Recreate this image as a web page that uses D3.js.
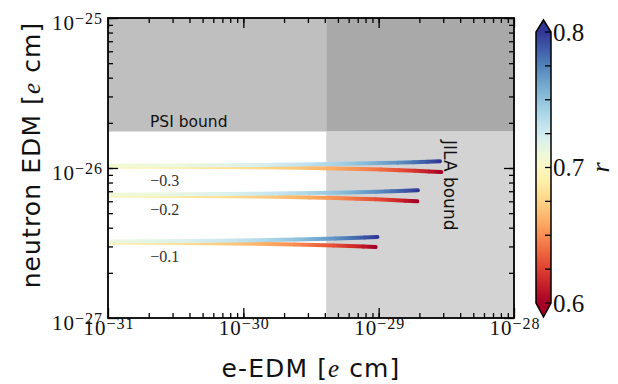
<!DOCTYPE html>
<html>
<head>
<meta charset="utf-8">
<script src="https://cdn.jsdelivr.net/npm/d3@7"></script>
<style>
  body { margin: 0; background: #fff; }
  .serif { font-family: "Liberation Serif", "DejaVu Serif", serif; }
  .sans { font-family: "DejaVu Sans", sans-serif; }
</style>
</head>
<body>
<script>
// ---- data ----
var rUpper = [0.703, 0.71, 0.72, 0.73, 0.74, 0.75, 0.76, 0.77, 0.78, 0.79, 0.80];
var rLower = [0.697, 0.69, 0.68, 0.67, 0.66, 0.65, 0.64, 0.63, 0.62, 0.61, 0.60];

// group -0.3
var eUp3 = [2.6e-32, 2.84e-31, 1.14e-30, 2.56e-30, 4.5e-30, 7.1e-30, 1.02e-29, 1.39e-29, 1.82e-29, 2.3e-29, 2.84e-29];
var eLo3 = [2.6e-32, 2.9e-31, 1.16e-30, 2.6e-30, 4.6e-30, 7.2e-30, 1.04e-29, 1.42e-29, 1.86e-29, 2.35e-29, 2.9e-29];
var nUp3 = [1.032e-26, 1.038e-26, 1.046e-26, 1.054e-26, 1.062e-26, 1.070e-26, 1.078e-26, 1.086e-26, 1.094e-26, 1.102e-26, 1.110e-26];
var nLo3 = [1.027e-26, 1.021e-26, 1.012e-26, 1.003e-26, 0.994e-26, 0.985e-26, 0.976e-26, 0.967e-26, 0.958e-26, 0.949e-26, 0.940e-26];
// group -0.2
var eUp2 = [1.76e-32, 1.95e-31, 7.8e-31, 1.76e-30, 3.1e-30, 4.9e-30, 7.0e-30, 9.6e-30, 1.25e-29, 1.58e-29, 1.95e-29];
var eLo2 = [1.76e-32, 1.93e-31, 7.7e-31, 1.74e-30, 3.08e-30, 4.85e-30, 6.95e-30, 9.5e-30, 1.24e-29, 1.57e-29, 1.93e-29];
var nUp2 = [6.615e-27, 6.65e-27, 6.70e-27, 6.75e-27, 6.80e-27, 6.85e-27, 6.90e-27, 6.95e-27, 7.00e-27, 7.05e-27, 7.10e-27];
var nLo2 = [6.582e-27, 6.54e-27, 6.48e-27, 6.42e-27, 6.36e-27, 6.30e-27, 6.24e-27, 6.18e-27, 6.12e-27, 6.06e-27, 6.00e-27];
// group -0.1
var eUp1 = [8.8e-33, 9.8e-32, 3.9e-31, 8.8e-31, 1.57e-30, 2.45e-30, 3.5e-30, 4.8e-30, 6.3e-30, 7.9e-30, 9.8e-30];
var eLo1 = [8.6e-33, 9.5e-32, 3.8e-31, 8.6e-31, 1.52e-30, 2.38e-30, 3.4e-30, 4.65e-30, 6.1e-30, 7.7e-30, 9.5e-30];
var nUp1 = [3.218e-27, 3.236e-27, 3.262e-27, 3.288e-27, 3.314e-27, 3.34e-27, 3.366e-27, 3.392e-27, 3.418e-27, 3.444e-27, 3.47e-27];
var nLo1 = [3.203e-27, 3.186e-27, 3.162e-27, 3.138e-27, 3.114e-27, 3.09e-27, 3.066e-27, 3.042e-27, 3.018e-27, 2.994e-27, 2.97e-27];

var groupLabels = ["\u22120.3", "\u22120.2", "\u22120.1"];
var groupBase = [1.03e-26, 6.6e-27, 3.21e-27];

var xMajor = [1e-31, 1e-30, 1e-29, 1e-28];
var xExp = [-31, -30, -29, -28];
var yMajor = [1e-27, 1e-26, 1e-25];
var yExp = [-27, -26, -25];

var psiBound = 1.75e-26;
var jilaBound = 4.1e-30;

var cbTicks = [0.6, 0.625, 0.65, 0.675, 0.7, 0.725, 0.75, 0.775, 0.8];
var cbLabels = [0.6, 0.7, 0.8];

// ---- layout ----
var W = 618, H = 384;
var margin = {top: 18, right: 104, bottom: 66, left: 108},
    width = W - margin.left - margin.right,
    height = H - margin.top - margin.bottom;

var x = d3.scaleLog().domain([1e-31, 1e-28]).range([0, width]);
var y = d3.scaleLog().domain([1e-27, 1e-25]).range([height, 0]);
var color = function(r) { return d3.interpolateRdYlBu((r - 0.6) / 0.2); };

var svg0 = d3.select("body").append("svg")
    .attr("width", W).attr("height", H);
var defs = svg0.append("defs");
defs.append("clipPath").attr("id", "plotclip")
  .append("rect").attr("width", width).attr("height", height);

var svg = svg0.append("g")
    .attr("transform", "translate(" + margin.left + "," + margin.top + ")");

// shaded excluded regions
svg.append("rect")
    .attr("x", 0).attr("y", 0)
    .attr("width", x(jilaBound)).attr("height", y(psiBound))
    .attr("fill", "#bfbfbf");
svg.append("rect")
    .attr("x", x(jilaBound)).attr("y", 0)
    .attr("width", width - x(jilaBound)).attr("height", y(psiBound))
    .attr("fill", "#a9a9a9");
svg.append("rect")
    .attr("x", x(jilaBound)).attr("y", y(psiBound))
    .attr("width", width - x(jilaBound)).attr("height", height - y(psiBound))
    .attr("fill", "#d3d3d3");

// curves coloured by r
var branches = [
  {e: eUp3, n: nUp3, r: rUpper}, {e: eLo3, n: nLo3, r: rLower},
  {e: eUp2, n: nUp2, r: rUpper}, {e: eLo2, n: nLo2, r: rLower},
  {e: eUp1, n: nUp1, r: rUpper}, {e: eLo1, n: nLo1, r: rLower}
];
var curves = svg.append("g").attr("clip-path", "url(#plotclip)");
// draw lower branches first so the upper (blue) ones sit on top
[1, 3, 5, 0, 2, 4].forEach(function(bi) {
  var b = branches[bi];
  for (var i = 0; i < b.e.length - 1; i++) {
    var x1 = x(b.e[i]), y1 = y(b.n[i]), x2 = x(b.e[i + 1]), y2 = y(b.n[i + 1]);
    var id = "g" + bi + "_" + i;
    var grad = defs.append("linearGradient").attr("id", id)
        .attr("gradientUnits", "userSpaceOnUse")
        .attr("x1", x1).attr("y1", y1).attr("x2", x2).attr("y2", y2);
    grad.append("stop").attr("offset", 0).attr("stop-color", color(b.r[i]));
    grad.append("stop").attr("offset", 1).attr("stop-color", color(b.r[i + 1]));
    curves.append("line")
        .attr("x1", x1).attr("y1", y1).attr("x2", x2).attr("y2", y2)
        .attr("stroke", "url(#" + id + ")")
        .attr("stroke-width", 4)
        .attr("stroke-linecap", "round");
  }
});

// group labels
svg.selectAll(".glabel").data(groupLabels).enter().append("text")
    .attr("class", "serif")
    .attr("x", x(2.05e-31))
    .attr("y", function(d, i) { return y(groupBase[i]) + 14; })
    .attr("dominant-baseline", "central")
    .attr("font-size", 16).attr("fill", "#333")
    .text(function(d) { return d; });

// bound labels
svg.append("text").attr("class", "sans")
    .attr("x", 42).attr("y", y(psiBound) - 5)
    .attr("font-size", 15.5).attr("fill", "#111")
    .text("PSI bound");
svg.append("text").attr("class", "sans")
    .attr("transform", "translate(" + (width - 70) + ",122) rotate(90)")
    .attr("font-size", 17).attr("fill", "#111")
    .text("JILA bound");

// ticks (inward, all four sides)
var xMinor = x.ticks().filter(function(v) { return xMajor.indexOf(v) < 0; });
var yMinor = y.ticks().filter(function(v) { return yMajor.indexOf(v) < 0; });
function tickAxis(axis, vals, size, tx, ty) {
  var g = svg.append("g")
      .attr("transform", "translate(" + tx + "," + ty + ")")
      .call(axis.tickValues(vals).tickSize(-size).tickFormat(""));
  g.select(".domain").remove();
  g.selectAll("line").attr("stroke", "#000").attr("stroke-width", 1.3);
}
tickAxis(d3.axisBottom(x), xMajor, 10, 0, height);
tickAxis(d3.axisBottom(x), xMinor, 5, 0, height);
tickAxis(d3.axisTop(x), xMajor, 10, 0, 0);
tickAxis(d3.axisTop(x), xMinor, 5, 0, 0);
tickAxis(d3.axisLeft(y), yMajor, 10, 0, 0);
tickAxis(d3.axisLeft(y), yMinor, 5, 0, 0);
tickAxis(d3.axisRight(y), yMajor, 10, width, 0);
tickAxis(d3.axisRight(y), yMinor, 5, width, 0);

// frame
svg.append("rect").attr("width", width).attr("height", height)
    .attr("fill", "none").attr("stroke", "#000").attr("stroke-width", 1.8);

// tick labels 10^n
function powLabel(t, exp) {
  t.append("tspan").attr("font-size", 21).text("10");
  t.append("tspan").attr("font-size", 16).attr("dy", -6.5).text("\u2212" + Math.abs(exp));
}
xMajor.forEach(function(v, i) {
  var t = svg.append("text").attr("class", "serif")
      .attr("x", x(v) + 1).attr("y", height + 17)
      .attr("text-anchor", "middle").attr("letter-spacing", 1)
      .attr("fill", "#111");
  powLabel(t, xExp[i]);
});
yMajor.forEach(function(v, i) {
  var t = svg.append("text").attr("class", "serif")
      .attr("x", -5).attr("y", y(v) + 12)
      .attr("text-anchor", "end").attr("letter-spacing", 1)
      .attr("fill", "#111");
  powLabel(t, yExp[i]);
});

// axis titles
var xt = svg.append("text").attr("class", "sans")
    .attr("x", width / 2).attr("y", height + 59)
    .attr("text-anchor", "middle").attr("font-size", 25)
    .attr("letter-spacing", 1.1).attr("fill", "#111");
xt.append("tspan").text("e-EDM [");
xt.append("tspan").attr("class", "serif").attr("font-style", "italic").text("e");
xt.append("tspan").text(" cm]");

var yt = svg.append("text").attr("class", "sans")
    .attr("transform", "translate(-68," + (height / 2 - 13) + ") rotate(-90)")
    .attr("text-anchor", "middle").attr("font-size", 25)
    .attr("letter-spacing", 1.1).attr("fill", "#111");
yt.append("tspan").text("neutron EDM [");
yt.append("tspan").attr("class", "serif").attr("font-style", "italic").text("e");
yt.append("tspan").text(" cm]");

// colorbar
var cbX = 536, cbW = 15;
var cy = d3.scaleLinear().domain([0.6, 0.8]).range([303, 32]);
var cgrad = defs.append("linearGradient").attr("id", "cbgrad")
    .attr("x1", 0).attr("y1", 1).attr("x2", 0).attr("y2", 0);
d3.range(0, 1.0001, 0.05).forEach(function(t) {
  cgrad.append("stop").attr("offset", t).attr("stop-color", d3.interpolateRdYlBu(t));
});
var cb = svg0.append("g");
cb.append("rect").attr("x", cbX).attr("y", cy(0.8))
    .attr("width", cbW).attr("height", cy(0.6) - cy(0.8))
    .attr("fill", "url(#cbgrad)");
cb.append("path")
    .attr("d", "M" + cbX + "," + cy(0.8) + "L" + (cbX + cbW / 2) + "," + (cy(0.8) - 12) + "L" + (cbX + cbW) + "," + cy(0.8) + "Z")
    .attr("fill", d3.interpolateRdYlBu(1));
cb.append("path")
    .attr("d", "M" + cbX + "," + cy(0.6) + "L" + (cbX + cbW / 2) + "," + (cy(0.6) + 14) + "L" + (cbX + cbW) + "," + cy(0.6) + "Z")
    .attr("fill", d3.interpolateRdYlBu(0));
cb.append("path")
    .attr("d", "M" + cbX + "," + cy(0.8) + "L" + (cbX + cbW / 2) + "," + (cy(0.8) - 12) + "L" + (cbX + cbW) + "," + cy(0.8) +
               "L" + (cbX + cbW) + "," + cy(0.6) + "L" + (cbX + cbW / 2) + "," + (cy(0.6) + 14) + "L" + cbX + "," + cy(0.6) + "Z")
    .attr("fill", "none").attr("stroke", "#000").attr("stroke-width", 1.5);
cb.selectAll(".cbt").data(cbTicks).enter().append("line")
    .attr("x1", cbX + cbW - 6).attr("x2", cbX + cbW)
    .attr("y1", function(d) { return cy(d); }).attr("y2", function(d) { return cy(d); })
    .attr("stroke", "#000").attr("stroke-width", 1.3);
cb.selectAll(".cbl").data(cbLabels).enter().append("text")
    .attr("class", "serif")
    .attr("x", cbX + cbW + 2).attr("y", function(d) { return cy(d); })
    .attr("dominant-baseline", "central")
    .attr("font-size", 25).attr("fill", "#111")
    .text(function(d) { return d.toFixed(1); });
cb.append("text").attr("class", "serif")
    .attr("transform", "translate(600," + cy(0.7) + ") rotate(-90)")
    .attr("text-anchor", "middle").attr("dominant-baseline", "central")
    .attr("font-style", "italic").attr("font-size", 26).attr("fill", "#111")
    .text("r");
</script>
</body>
</html>
